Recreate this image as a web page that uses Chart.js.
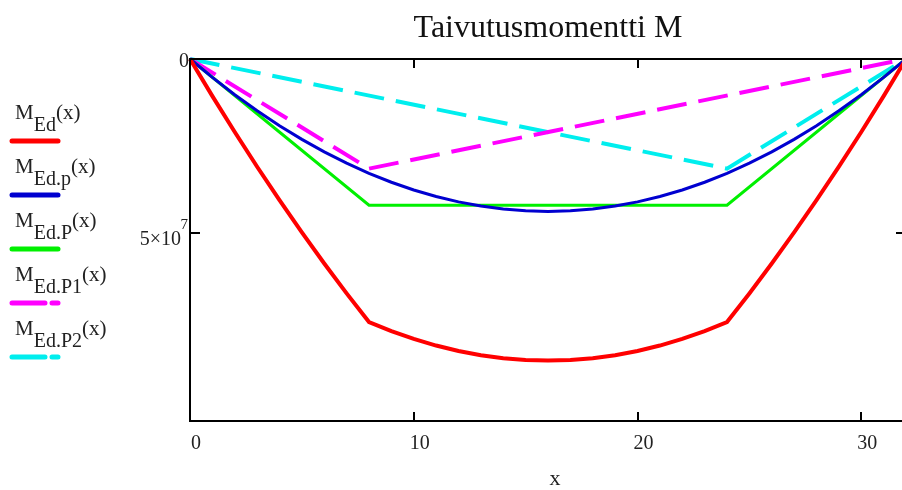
<!DOCTYPE html>
<html>
<head>
<meta charset="utf-8">
<script src="https://cdn.jsdelivr.net/npm/chart.js@4"></script>
<style>
  body { margin: 0; overflow: hidden; background: #fff; }
</style>
</head>
<body>
<canvas id="momentChart" width="910" height="490"></canvas>
<script>
// x positions (m) and moment values
const xs = [0,1,2,3,4,5,6,7,8,9,10,11,12,13,14,15,16,17,18,19,20,21,22,23,24,25,26,27,28,29,30,31,32];
const mEd = [0,1.066e7,2.098e7,3.095e7,4.056e7,4.984e7,5.877e7,6.736e7,7.560e7,7.819e7,8.044e7,8.234e7,8.389e7,8.510e7,8.597e7,8.649e7,8.666e7,
    8.649e7,8.597e7,8.510e7,8.389e7,8.234e7,8.044e7,7.819e7,7.560e7,6.736e7,5.877e7,4.984e7,4.056e7,3.095e7,2.098e7,1.066e7,0];
const mEdp = [0,5.30e6,1.027e7,1.489e7,1.916e7,2.310e7,2.669e7,2.994e7,3.285e7,3.542e7,3.764e7,3.952e7,4.106e7,4.226e7,4.312e7,4.363e7,4.380e7,
    4.363e7,4.312e7,4.226e7,4.106e7,3.952e7,3.764e7,3.542e7,3.285e7,2.994e7,2.669e7,2.310e7,1.916e7,1.489e7,1.027e7,5.30e6,0];
const xsP = [0, 8, 24, 32];
const mEdP = [0, 4.20e7, 4.20e7, 0];
const xsP1 = [0, 8, 32];
const mEdP1 = [0, 3.15e7, 0];
const xsP2 = [0, 24, 32];
const mEdP2 = [0, 3.15e7, 0];

const xTicks = [0, 10, 20, 30];
const yTicks = [0, 5e7];
const legendItems = [
    { main: 'M', sub: 'Ed', tail: '(x)' },
    { main: 'M', sub: 'Ed.p', tail: '(x)' },
    { main: 'M', sub: 'Ed.P', tail: '(x)' },
    { main: 'M', sub: 'Ed.P1', tail: '(x)' },
    { main: 'M', sub: 'Ed.P2', tail: '(x)' },
];

function pts(x, y) {
    return x.map((v, i) => ({ x: v, y: y[i] }));
}

const serif = "'Liberation Serif', 'Times New Roman', serif";

const mathcadFrame = {
    id: 'mathcadFrame',
    afterDraw(chart) {
        const ctx = chart.ctx;
        const a = chart.chartArea;
        const xs_ = chart.scales.x;
        const ys_ = chart.scales.y;
        ctx.save();
        // box
        ctx.strokeStyle = '#000';
        ctx.lineWidth = 2;
        ctx.strokeRect(a.left, a.top, a.right - a.left, a.bottom - a.top);
        // ticks pointing inwards
        ctx.beginPath();
        xTicks.slice(1).forEach(t => {
            const px = Math.round(xs_.getPixelForValue(t));
            ctx.moveTo(px, a.bottom); ctx.lineTo(px, a.bottom - 9);
            ctx.moveTo(px, a.top); ctx.lineTo(px, a.top + 9);
        });
        yTicks.slice(1).forEach(t => {
            const py = Math.round(ys_.getPixelForValue(t));
            ctx.moveTo(a.left, py); ctx.lineTo(a.left + 10, py);
            ctx.moveTo(a.right, py); ctx.lineTo(a.right - 10, py);
        });
        ctx.stroke();

        // tick labels
        ctx.fillStyle = '#222';
        ctx.font = '20px ' + serif;
        ctx.textAlign = 'center';
        ctx.textBaseline = 'alphabetic';
        xTicks.forEach(t => {
            ctx.fillText(String(t), xs_.getPixelForValue(t) + 6, a.bottom + 28);
        });
        ctx.textAlign = 'right';
        ctx.fillText('0', a.left - 1, ys_.getPixelForValue(0) + 8);
        const py5 = ys_.getPixelForValue(5e7);
        ctx.font = '15px ' + serif;
        ctx.fillText('7', a.left - 2, py5 - 4);
        ctx.font = '20px ' + serif;
        ctx.fillText('5\u00d710', a.left - 9, py5 + 12);

        // axis title and chart title
        ctx.textAlign = 'center';
        ctx.font = '22px ' + serif;
        ctx.fillText('x', (a.left + a.right) / 2 + 7, 485);
        ctx.font = '32px ' + serif;
        ctx.fillStyle = '#111';
        ctx.fillText('Taivutusmomentti M', 548, 37);

        // legend
        chart.data.datasets.forEach((ds, i) => {
            const item = legendItems[i];
            const lineY = 141 + i * 54;
            const base = lineY - 22;
            ctx.textAlign = 'left';
            ctx.fillStyle = '#222';
            ctx.font = '21px ' + serif;
            let x = 15;
            ctx.fillText(item.main, x, base);
            x += ctx.measureText(item.main).width;
            ctx.font = '20px ' + serif;
            ctx.fillText(item.sub, x, base + 12);
            x += ctx.measureText(item.sub).width;
            ctx.font = '21px ' + serif;
            ctx.fillText(item.tail, x, base);

            ctx.beginPath();
            ctx.strokeStyle = ds.borderColor;
            ctx.lineWidth = 5;
            ctx.lineCap = 'round';
            ctx.setLineDash(ds.borderDash && ds.borderDash.length ? [33, 7] : []);
            ctx.moveTo(12, lineY);
            ctx.lineTo(58, lineY);
            ctx.stroke();
            ctx.setLineDash([]);
        });
        ctx.restore();
    }
};

const ctx = document.getElementById('momentChart').getContext('2d');
new Chart(ctx, {
    type: 'scatter',
    data: {
        datasets: [
            { label: 'M_Ed(x)', data: pts(xs, mEd), borderColor: '#ff0000', borderWidth: 4 },
            { label: 'M_Ed.p(x)', data: pts(xs, mEdp), borderColor: '#0000d0', borderWidth: 3 },
            { label: 'M_Ed.P(x)', data: pts(xsP, mEdP), borderColor: '#00f000', borderWidth: 3 },
            { label: 'M_Ed.P1(x)', data: pts(xsP1, mEdP1), borderColor: '#ff00ff', borderWidth: 4, borderDash: [30, 12] },
            { label: 'M_Ed.P2(x)', data: pts(xsP2, mEdP2), borderColor: '#00eeee', borderWidth: 4, borderDash: [30, 12] },
        ].map(d => Object.assign(d, { showLine: true, pointRadius: 0, pointHoverRadius: 0, tension: 0, clip: false, fill: false }))
    },
    options: {
        responsive: false,
        animation: false,
        layout: { padding: { left: 190, right: 4, top: 59, bottom: 69 } },
        scales: {
            x: { type: 'linear', min: 0, max: 32, display: false },
            y: { type: 'linear', min: 0, max: 1.0402e8, reverse: true, display: false }
        },
        plugins: {
            legend: { display: false },
            tooltip: { enabled: false },
            title: { display: false }
        }
    },
    plugins: [mathcadFrame]
});
</script>
</body>
</html>
